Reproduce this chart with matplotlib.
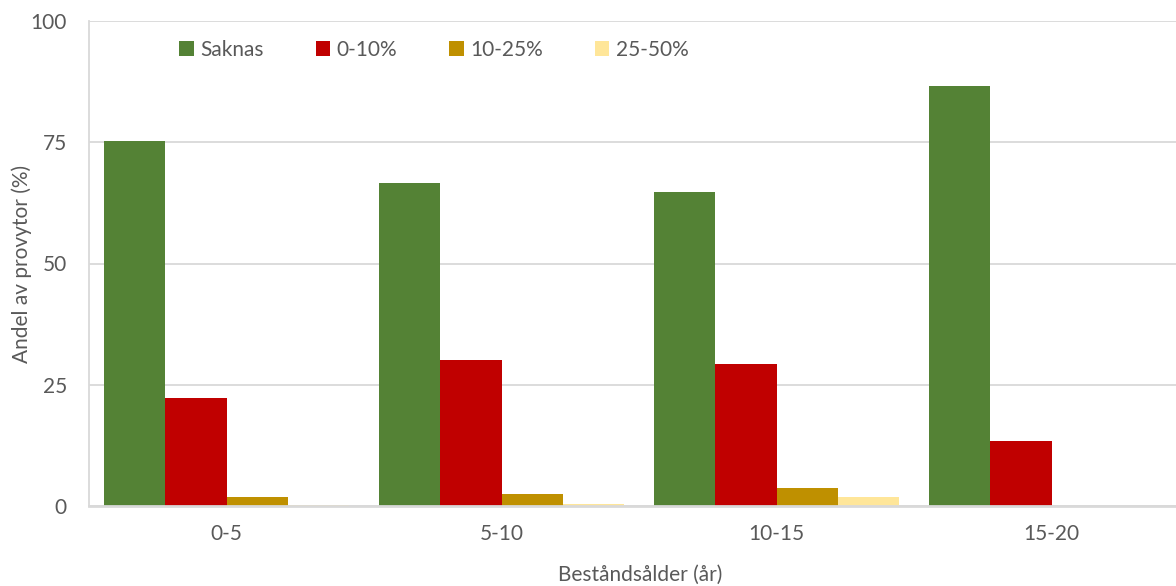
import numpy as np
import matplotlib
matplotlib.use('Agg')
import matplotlib.pyplot as plt

categories = ['0-5', '5-10', '10-15', '15-20']
series_names = ['Saknas', '0-10%', '10-25%', '25-50%']
saknas = [75.2, 66.5, 64.7, 86.6]
p0_10 = [22.3, 30.2, 29.3, 13.4]
p10_25 = [1.9, 2.5, 3.7, 0.0]
p25_50 = [0.3, 0.4, 1.9, 0.0]
colors = ['#548235', '#C00000', '#BF9000', '#FFE699']

plt.rcParams['font.family'] = ['Lato', 'DejaVu Sans']
txt = '#595959'
grid_col = '#d9d9d9'
fs = 15

fig = plt.figure(figsize=(11.76, 5.86), dpi=100)
ax = fig.add_axes([89 / 1176, 1 - 506 / 586, 1100 / 1176, 485 / 586])

x = np.arange(len(categories))
w = 0.222
data = [saknas, p0_10, p10_25, p25_50]
for i, (vals, name, c) in enumerate(zip(data, series_names, colors)):
    ax.bar(x + (i - 1.5) * w, vals, width=w, color=c, label=name, zorder=3)

ax.set_xlim(-0.5, len(categories) - 0.5)
ax.set_ylim(0, 100)
ax.set_yticks([0, 25, 50, 75, 100])
ax.set_xticks(x)
ax.set_xticklabels(categories)
ax.yaxis.grid(True, color=grid_col, linewidth=1.3, zorder=0)
ax.tick_params(axis='both', length=0, labelsize=fs, colors=txt)
ax.tick_params(axis='x', pad=13)
ax.tick_params(axis='y', pad=16)

for s in ['right', 'top']:
    ax.spines[s].set_visible(False)
ax.spines['left'].set_color(grid_col)
ax.spines['left'].set_linewidth(1.3)
ax.spines['bottom'].set_color(grid_col)
ax.spines['bottom'].set_linewidth(2)
ax.spines['bottom'].set_zorder(4)

# axis titles placed in figure coordinates
fig.text(22 / 1176, 1 - 264 / 586, 'Andel av provytor (%)', fontsize=fs,
         color=txt, rotation=90, ha='center', va='center')
fig.text(640 / 1176, 1 - 575 / 586, 'Beståndsålder (år)', fontsize=fs,
         color=txt, ha='center', va='center')

leg = ax.legend(ncol=4, loc='upper left', bbox_to_anchor=(0.065, 1.0),
                frameon=False, fontsize=fs, handlelength=0.7, handleheight=0.7,
                handletextpad=0.3, columnspacing=2.5)
for t in leg.get_texts():
    t.set_color(txt)

fig.savefig('out.png', dpi=100)
